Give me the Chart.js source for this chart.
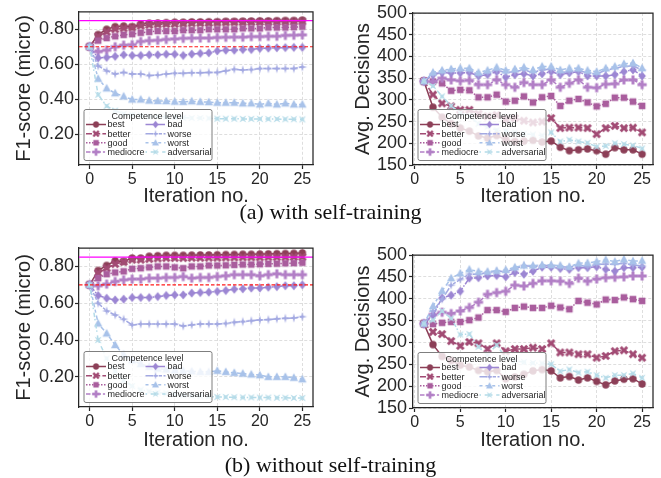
<!DOCTYPE html>
<html>
<head>
<meta charset="utf-8">
<script src="https://cdn.jsdelivr.net/npm/chart.js@4.4.0/dist/chart.umd.min.js"></script>
<style>
  body { margin: 0; background: #fff; width: 661px; height: 478px; position: relative; overflow: hidden; }
  canvas { position: absolute; }
  .cap { position: absolute; left: 0; width: 661px; text-align: center; font-family: "Liberation Serif", "Times New Roman", serif; font-size: 22px; line-height: 22px; color: #111; }
</style>
</head>
<body>
<canvas id="f1Self" style="left:0;top:0" width="330" height="210"></canvas>
<canvas id="decSelf" style="left:330px;top:0" width="331" height="210"></canvas>
<canvas id="f1NoSelf" style="left:0;top:215px" width="330" height="240"></canvas>
<canvas id="decNoSelf" style="left:330px;top:215px" width="331" height="240"></canvas>
<div class="cap" style="top:201px">(a) with self-training</div>
<div class="cap" style="top:454px">(b) without self-training</div>

<script>
// ---- data ----
const LEVELS = ['best', 'better', 'good', 'mediocre', 'bad', 'worse', 'worst', 'adversarial'];
const ITER_F1 = [0,1,2,3,4,5,6,7,8,9,10,11,12,13,14,15,16,17,18,19,20,21,22,23,24,25];
const ITER_DEC = [1,2,3,4,5,6,7,8,9,10,11,12,13,14,15,16,17,18,19,20,21,22,23,24,25];
const ITER_TICKS = [0, 5, 10, 15, 20, 25];
const F1_TICKS = [0.2, 0.4, 0.6, 0.8];
const DEC_TICKS = [150, 200, 250, 300, 350, 400, 450, 500];
const F1_TARGET = 0.85;   // magenta line
const F1_START = 0.70;    // red dashed line

// (a) with self-training, F1
const F1_SELF_BEST = [0.70,0.77,0.80,0.815,0.818,0.815,0.83,0.835,0.836,0.838,0.84,0.84,0.842,0.842,0.843,0.843,0.845,0.845,0.846,0.847,0.848,0.848,0.849,0.85,0.85,0.852];
const F1_SELF_BETTER = [0.70,0.76,0.785,0.80,0.805,0.81,0.82,0.825,0.828,0.83,0.83,0.832,0.834,0.835,0.836,0.838,0.839,0.84,0.84,0.841,0.842,0.842,0.843,0.843,0.844,0.845];
const F1_SELF_GOOD = [0.70,0.735,0.75,0.76,0.768,0.772,0.78,0.785,0.79,0.79,0.79,0.795,0.795,0.795,0.80,0.80,0.80,0.80,0.805,0.805,0.805,0.81,0.81,0.81,0.812,0.815];
const F1_SELF_MEDIOCRE = [0.70,0.672,0.68,0.70,0.709,0.712,0.73,0.735,0.737,0.742,0.745,0.748,0.749,0.75,0.75,0.753,0.754,0.755,0.755,0.758,0.758,0.76,0.76,0.765,0.766,0.768];
const F1_SELF_BAD = [0.70,0.636,0.639,0.645,0.654,0.65,0.65,0.654,0.654,0.657,0.657,0.65,0.658,0.662,0.665,0.676,0.68,0.68,0.684,0.684,0.69,0.692,0.694,0.695,0.696,0.696];
const F1_SELF_WORSE = [0.70,0.59,0.562,0.544,0.553,0.544,0.544,0.535,0.538,0.544,0.548,0.548,0.551,0.551,0.553,0.553,0.562,0.571,0.567,0.569,0.575,0.575,0.575,0.575,0.575,0.584];
const F1_SELF_WORST = [0.70,0.517,0.462,0.434,0.416,0.398,0.398,0.392,0.39,0.389,0.386,0.385,0.388,0.385,0.383,0.38,0.38,0.38,0.376,0.376,0.37,0.376,0.37,0.376,0.37,0.37];
const F1_SELF_ADV = [0.70,0.425,0.361,0.334,0.316,0.31,0.305,0.30,0.30,0.298,0.296,0.293,0.292,0.292,0.29,0.288,0.288,0.288,0.287,0.287,0.287,0.286,0.286,0.285,0.285,0.284];

// (a) with self-training, avg decisions
const DEC_SELF_BEST = [343,283,260,245,235,228,217,212,218,208,204,205,207,203,205,191,183,185,187,183,175,190,185,185,175];
const DEC_SELF_BETTER = [343,312,292,285,277,277,268,262,265,255,258,252,248,250,258,235,236,236,235,221,235,240,235,236,225];
const DEC_SELF_GOOD = [343,342,338,321,323,322,306,306,312,296,298,308,294,306,309,286,298,302,294,285,291,305,305,296,286];
const DEC_SELF_MEDIOCRE = [343,342,350,346,344,345,335,335,346,335,329,340,335,335,346,329,338,346,329,328,336,337,346,346,335];
const DEC_SELF_BAD = [343,358,363,362,362,363,355,358,365,352,358,360,355,360,365,358,362,365,355,355,355,358,365,369,355];
const DEC_SELF_WORSE = [343,360,365,368,368,368,358,363,369,363,365,369,363,369,371,363,365,368,362,360,368,373,377,378,369];
const DEC_SELF_WORST = [343,363,368,371,373,373,363,368,375,368,371,375,369,377,377,369,373,373,368,365,373,377,383,385,373];
const DEC_SELF_ADV = [343,332,308,286,270,262,245,238,230,228,225,222,220,218,225,204,208,204,201,192,194,200,198,195,188];

// (b) without self-training, F1
const F1_NOSELF_BEST = [0.70,0.778,0.805,0.83,0.827,0.845,0.845,0.855,0.858,0.86,0.86,0.86,0.861,0.862,0.862,0.863,0.864,0.865,0.866,0.866,0.867,0.868,0.869,0.87,0.871,0.873];
const F1_NOSELF_BETTER = [0.70,0.764,0.79,0.813,0.824,0.836,0.836,0.84,0.843,0.845,0.845,0.845,0.846,0.846,0.847,0.847,0.848,0.848,0.849,0.849,0.849,0.85,0.85,0.85,0.851,0.851];
const F1_NOSELF_GOOD = [0.70,0.736,0.758,0.767,0.773,0.787,0.79,0.795,0.80,0.80,0.795,0.79,0.80,0.80,0.805,0.805,0.806,0.808,0.81,0.81,0.812,0.814,0.815,0.817,0.818,0.82];
const F1_NOSELF_MEDIOCRE = [0.70,0.695,0.704,0.718,0.727,0.731,0.731,0.736,0.736,0.74,0.74,0.745,0.736,0.74,0.74,0.745,0.749,0.755,0.755,0.755,0.749,0.755,0.76,0.755,0.755,0.755];
const F1_NOSELF_BAD = [0.70,0.642,0.627,0.618,0.622,0.631,0.631,0.631,0.636,0.642,0.645,0.645,0.655,0.658,0.66,0.664,0.669,0.676,0.678,0.682,0.682,0.687,0.69,0.695,0.695,0.70];
const F1_NOSELF_WORSE = [0.70,0.60,0.558,0.536,0.513,0.482,0.487,0.487,0.487,0.487,0.487,0.476,0.482,0.487,0.487,0.487,0.49,0.496,0.50,0.505,0.509,0.511,0.515,0.518,0.52,0.527];
const F1_NOSELF_WORST = [0.70,0.49,0.436,0.373,0.32,0.29,0.27,0.255,0.245,0.24,0.236,0.233,0.23,0.227,0.227,0.233,0.227,0.222,0.218,0.213,0.209,0.20,0.20,0.20,0.195,0.187];
const F1_NOSELF_ADV = [0.70,0.40,0.30,0.23,0.18,0.15,0.13,0.12,0.115,0.11,0.105,0.10,0.098,0.095,0.093,0.09,0.09,0.089,0.088,0.088,0.087,0.087,0.086,0.086,0.085,0.085];

// (b) without self-training, avg decisions
const DEC_NOSELF_BEST = [343,295,268,259,248,244,236,233,236,217,221,227,235,238,235,219,222,214,219,211,203,212,216,217,205];
const DEC_NOSELF_BETTER = [343,324,319,303,292,301,298,285,298,280,285,285,288,285,298,277,277,273,273,265,269,280,282,273,265];
const DEC_NOSELF_GOOD = [343,342,345,347,347,351,357,374,374,370,379,382,379,379,384,380,376,395,391,387,398,397,403,399,395];
const DEC_NOSELF_MEDIOCRE = [343,364,369,366,372,380,392,410,414,417,431,429,435,441,441,440,435,447,440,445,448,449,450,452,452];
const DEC_NOSELF_BAD = [343,362,402,408,417,447,448,452,453,450,460,456,463,472,472,469,467,471,471,473,467,463,471,471,472];
const DEC_NOSELF_WORSE = [343,372,399,431,444,456,456,460,463,462,468,476,473,476,476,473,472,477,473,479,479,479,481,477,475];
const DEC_NOSELF_WORST = [343,383,418,447,458,467,462,462,464,466,472,476,476,477,477,476,473,481,482,485,489,485,490,486,487];
const DEC_NOSELF_ADV = [343,351,372,355,318,319,290,272,294,265,258,255,253,252,250,234,238,231,233,225,219,225,225,229,219];

const F1_SELF = [F1_SELF_BEST, F1_SELF_BETTER, F1_SELF_GOOD, F1_SELF_MEDIOCRE, F1_SELF_BAD, F1_SELF_WORSE, F1_SELF_WORST, F1_SELF_ADV];
const DEC_SELF = [DEC_SELF_BEST, DEC_SELF_BETTER, DEC_SELF_GOOD, DEC_SELF_MEDIOCRE, DEC_SELF_BAD, DEC_SELF_WORSE, DEC_SELF_WORST, DEC_SELF_ADV];
const F1_NOSELF = [F1_NOSELF_BEST, F1_NOSELF_BETTER, F1_NOSELF_GOOD, F1_NOSELF_MEDIOCRE, F1_NOSELF_BAD, F1_NOSELF_WORSE, F1_NOSELF_WORST, F1_NOSELF_ADV];
const DEC_NOSELF = [DEC_NOSELF_BEST, DEC_NOSELF_BETTER, DEC_NOSELF_GOOD, DEC_NOSELF_MEDIOCRE, DEC_NOSELF_BAD, DEC_NOSELF_WORSE, DEC_NOSELF_WORST, DEC_NOSELF_ADV];

// ---- styles ----
const COLORS = ['#8c3f57', '#a24b74', '#a95d9d', '#b27fc6', '#9c86d3', '#a3a9e2', '#a8c2e9', '#b4dbe8'];
const DASHES = [[], [6, 2.2], [1.5, 1.5], [4.5, 1.9, 2.2, 1.9], [7.5, 1.5, 1.5, 1.5], [7.5, 1.5, 3, 1.5, 3, 1.5], [3, 3, 4.5, 2.2], [1.5, 3.7, 4.5, 1.8]];
const SHAPES = ['o', 'X', 's', 'P', 'D', 'star', '^', 'xstar'];
const FONT = '"Liberation Sans", Arial, sans-serif';
const INK = '#262626';

function poly(g, pts) {
  g.moveTo(pts[0][0], pts[0][1]);
  for (let i = 1; i < pts.length; i++) g.lineTo(pts[i][0], pts[i][1]);
  g.closePath();
}

// small filled marker images, seaborn style
function marker(shape, color) {
  const c = document.createElement('canvas');
  c.width = c.height = 12;
  const g = c.getContext('2d');
  g.fillStyle = color;
  g.translate(6, 6);
  g.beginPath();
  if (shape === 'o') g.arc(0, 0, 3.7, 0, Math.PI * 2);
  else if (shape === 's') g.rect(-3.3, -3.3, 6.6, 6.6);
  else if (shape === 'D') poly(g, [[0, -4.5], [3.8, 0], [0, 4.5], [-3.8, 0]]);
  else if (shape === '^') poly(g, [[0, -4.5], [4.2, 3.2], [-4.2, 3.2]]);
  else if (shape === 'P' || shape === 'X') {
    if (shape === 'X') g.rotate(Math.PI / 4);
    const a = 4.6, t = 1.5;
    poly(g, [[-t,-a],[t,-a],[t,-t],[a,-t],[a,t],[t,t],[t,a],[-t,a],[-t,t],[-a,t],[-a,-t],[-t,-t]]);
  } else {
    if (shape === 'xstar') g.rotate(Math.PI / 4);
    const pts = [];
    for (let k = 0; k < 8; k++) {
      const ang = -Math.PI / 2 + k * Math.PI / 4;
      const r = k % 2 === 0 ? 4.8 : 1.4;
      pts.push([r * Math.cos(ang), r * Math.sin(ang)]);
    }
    poly(g, pts);
  }
  g.fill();
  return c;
}
const MARKERS = SHAPES.map((s, i) => marker(s, COLORS[i]));

// top and right spines
const framePlugin = {
  id: 'frame',
  afterDraw(chart) {
    const { ctx, chartArea: a } = chart;
    ctx.save();
    ctx.strokeStyle = INK;
    ctx.lineWidth = 1.25;
    ctx.beginPath();
    ctx.moveTo(a.left, a.top);
    ctx.lineTo(a.right, a.top);
    ctx.lineTo(a.right, a.bottom);
    ctx.stroke();
    ctx.restore();
  }
};

// legend box inside the plot, lower left, two columns
function legendPlugin(offL, offB) {
  return {
    id: 'compLegend',
    afterDatasetsDraw(chart) {
      const { ctx, chartArea: a } = chart;
      const W = 128, H = 51;
      const L = a.left + offL, T = a.bottom - offB - H;
      ctx.save();
      ctx.fillStyle = 'rgba(255,255,255,0.8)';
      ctx.strokeStyle = '#7f7f7f';
      ctx.lineWidth = 1;
      ctx.beginPath();
      ctx.roundRect(L + 0.5, T + 0.5, W, H, 2);
      ctx.fill();
      ctx.stroke();
      ctx.fillStyle = INK;
      ctx.font = '9px ' + FONT;
      ctx.textBaseline = 'middle';
      ctx.textAlign = 'center';
      ctx.fillText('Competence level', L + W / 2, T + 7.5);
      ctx.textAlign = 'left';
      const rows = [15.5, 24.7, 33.8, 43];
      const hx = [2.5, 62], tx = [24, 84];
      LEVELS.forEach((name, i) => {
        const col = i < 4 ? 0 : 1, y = T + rows[i % 4];
        const x0 = L + hx[col];
        ctx.strokeStyle = COLORS[i];
        ctx.lineWidth = 1.5;
        ctx.setLineDash(DASHES[i]);
        ctx.beginPath();
        ctx.moveTo(x0, y);
        ctx.lineTo(x0 + 20, y);
        ctx.stroke();
        ctx.setLineDash([]);
        ctx.drawImage(MARKERS[i], x0 + 10 - 5, y - 5, 10, 10);
        ctx.fillStyle = INK;
        ctx.fillText(name, L + tx[col], y + 0.5);
      });
      ctx.restore();
    }
  };
}

function makeChart(id, c) {
  const datasets = c.series.map((vals, i) => ({
    label: LEVELS[i],
    data: vals.map((v, k) => ({ x: c.iters[k], y: v })),
    borderColor: COLORS[i],
    backgroundColor: COLORS[i],
    borderWidth: 1.5,
    borderDash: DASHES[i],
    pointStyle: MARKERS[i],
    pointRadius: 3.5,
    tension: 0,
    order: 10 - i
  }));
  if (c.hlines) {
    datasets.push({
      data: [{ x: c.xMin, y: F1_TARGET }, { x: c.xMax, y: F1_TARGET }],
      borderColor: '#ff00ff', borderWidth: 1.3, pointRadius: 0, order: -1
    });
    datasets.push({
      data: [{ x: c.xMin, y: F1_START }, { x: c.xMax, y: F1_START }],
      borderColor: '#ff1a1a', borderWidth: 1.2, borderDash: [3.5, 2], pointRadius: 0, order: -1
    });
  }
  const grid = { color: '#d6d6d6', lineWidth: 0.8, tickColor: INK, tickLength: 4, tickWidth: 1.2 };
  const border = { color: INK, width: 1.25, dash: [3, 2] };
  return new Chart(document.getElementById(id), {
    type: 'line',
    data: { datasets },
    options: {
      animation: false,
      responsive: false,
      devicePixelRatio: 1,
      layout: { padding: { left: 0, top: c.padTop, right: c.padRight, bottom: 0 } },
      plugins: { legend: { display: false }, tooltip: { enabled: false } },
      scales: {
        x: {
          type: 'linear', min: c.xMin, max: c.xMax,
          afterBuildTicks: s => { s.ticks = ITER_TICKS.map(v => ({ value: v })); },
          afterFit: s => { s.height = c.xAxisH; },
          ticks: { font: { size: 16, family: FONT }, color: INK, padding: 1, maxRotation: 0, autoSkip: false },
          grid, border,
          title: { display: true, text: 'Iteration no.', color: INK, font: { size: 20, family: FONT, lineHeight: 1.2 }, padding: { top: 0, bottom: c.xTitlePad } }
        },
        y: {
          type: 'linear', min: c.yMin, max: c.yMax,
          afterBuildTicks: s => { s.ticks = c.yTicks.map(v => ({ value: v })); },
          afterFit: s => { s.width = c.yAxisW; },
          ticks: { font: { size: 18, family: FONT }, color: INK, padding: c.yTickPad, autoSkip: false, callback: c.fmt },
          grid, border,
          title: { display: true, text: c.yTitle, color: INK, font: { size: 20, family: FONT, lineHeight: 1.2 }, padding: { top: c.yTitlePad, bottom: 0 } }
        }
      }
    },
    plugins: [framePlugin, legendPlugin(4.5, 5)]
  });
}

const f1Fmt = v => v.toFixed(2);
const decFmt = v => String(v);

makeChart('f1Self', {
  iters: ITER_F1, series: F1_SELF, hlines: true,
  xMin: -1.25, xMax: 26.25, yMin: 0.023, yMax: 0.9, yTicks: F1_TICKS, fmt: f1Fmt,
  yTitle: 'F1-score (micro)', padTop: 5, padRight: 17, yAxisW: 79, xAxisH: 45,
  yTickPad: 1, yTitlePad: 12, xTitlePad: 2
});
makeChart('decSelf', {
  iters: ITER_DEC, series: DEC_SELF, hlines: false,
  xMin: -0.2, xMax: 26.2, yMin: 150, yMax: 500, yTicks: DEC_TICKS, fmt: decFmt,
  yTitle: 'Avg. Decisions', padTop: 13, padRight: 8, yAxisW: 83, xAxisH: 45,
  yTickPad: 2, yTitlePad: 21, xTitlePad: 2
});
makeChart('f1NoSelf', {
  iters: ITER_F1, series: F1_NOSELF, hlines: true,
  xMin: -1.25, xMax: 26.25, yMin: 0.036, yMax: 0.9, yTicks: F1_TICKS, fmt: f1Fmt,
  yTitle: 'F1-score (micro)', padTop: 33, padRight: 17, yAxisW: 79, xAxisH: 48,
  yTickPad: 1, yTitlePad: 12, xTitlePad: 3
});
makeChart('decNoSelf', {
  iters: ITER_DEC, series: DEC_NOSELF, hlines: false,
  xMin: -0.2, xMax: 26.2, yMin: 150, yMax: 500, yTicks: DEC_TICKS, fmt: decFmt,
  yTitle: 'Avg. Decisions', padTop: 40, padRight: 8, yAxisW: 83, xAxisH: 47,
  yTickPad: 2, yTitlePad: 21, xTitlePad: 3
});
</script>
</body>
</html>
